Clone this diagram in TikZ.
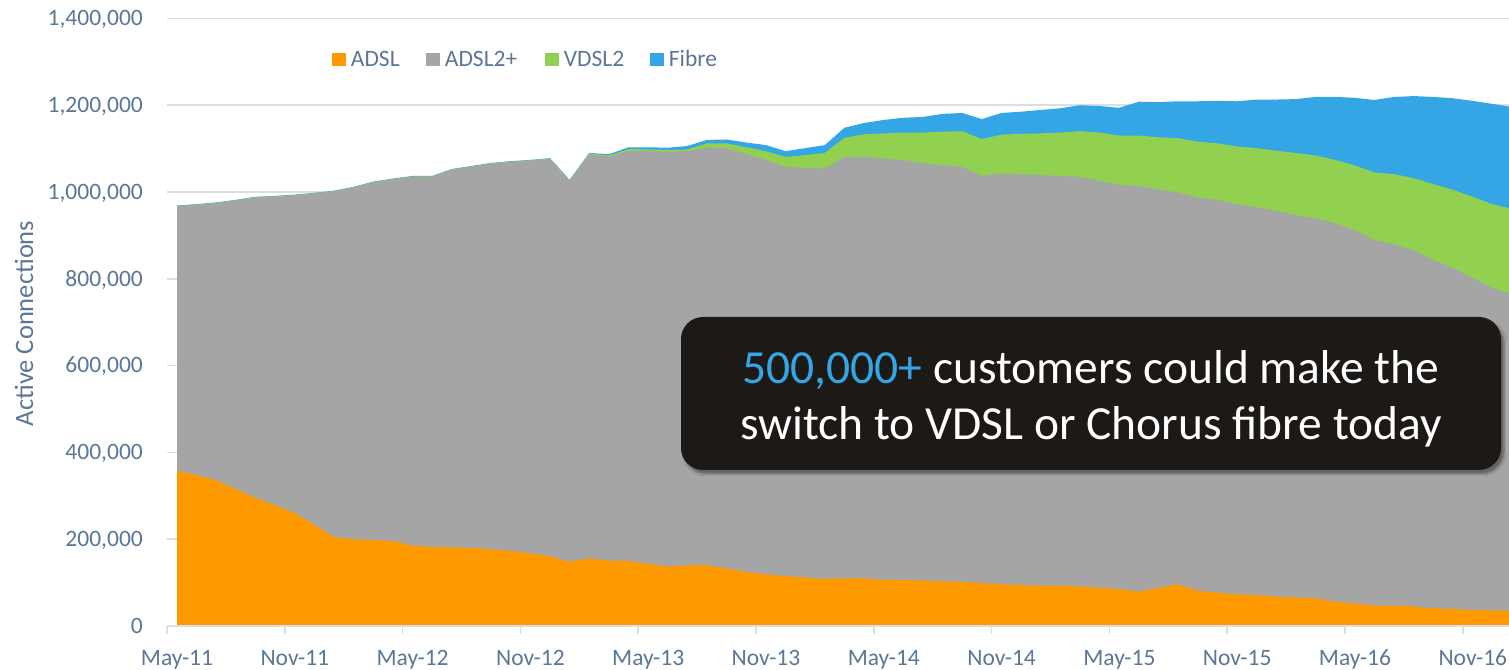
\documentclass[tikz,border=0pt]{standalone}
\usepackage{fontspec}
\setmainfont{Carlito}
\usetikzlibrary{positioning, shadows.blur}

\definecolor{axistext}{RGB}{91,119,150}
\definecolor{gridgrey}{RGB}{217,223,232}
\definecolor{adslorange}{RGB}{255,153,0}
\definecolor{adslgrey}{RGB}{165,165,165}
\definecolor{vdslgreen}{RGB}{146,208,80}
\definecolor{fibreblue}{RGB}{53,166,229}
\definecolor{calloutbg}{RGB}{28,25,23}

\begin{document}
\begin{tikzpicture}[x=1pt, y=1pt,
    ticklabel/.style={text=axistext, font=\fontsize{23.5}{28}\selectfont, inner sep=0pt},
    keytext/.style={ticklabel, text height=15pt, text depth=0pt},
    keybox/.style={minimum size=13.5pt, inner sep=0pt},
    gridline/.style={gridgrey, line width=1.5pt},
    callout/.style={fill=calloutbg, rounded corners=22pt, minimum width=820pt, minimum height=153pt,
        blur shadow={shadow xshift=3pt, shadow yshift=-4pt, shadow blur steps=8}},
    callouttext/.style={text=white, align=center, font=\fontsize{47.5}{56}\selectfont, inner sep=0pt}]
    \useasboundingbox (0,0) rectangle (1509,669);

    % Horizontal gridlines every 200,000
    \foreach \i in {1,...,7}
        \draw[gridline] (167,{43+86.8*\i}) -- (1509,{43+86.8*\i});

    % Stacked areas, month 0 = May-11, values in thousands
    \begin{scope}
        \clip (167,0) rectangle (1509,669);
        \begin{scope}[shift={(177pt,43pt)}, x=19.63pt, y=0.434pt]
            % Fibre (top of stack)
            \fill[fibreblue] plot coordinates {(0,969) (1,972) (2,976) (3,982) (4,989) (5,991) (6,994) (7,998) (8,1003) (9,1012) (10,1024) (11,1031) (12,1037) (13,1037) (14,1053) (15,1060) (16,1067) (17,1071) (18,1074) (19,1078) (20,1028) (21,1090) (22,1087) (23,1103) (24,1103) (25,1102) (26,1106) (27,1120) (28,1121) (29,1114) (30,1108) (31,1094) (32,1101) (33,1108) (34,1148) (35,1159) (36,1166) (37,1171) (38,1173) (39,1180) (40,1182) (41,1168) (42,1182) (43,1185) (44,1189) (45,1193) (46,1200) (47,1198) (48,1194) (49,1208) (50,1207) (51,1209) (52,1209) (53,1210) (54,1209) (55,1213) (56,1213) (57,1214) (58,1219) (59,1219) (60,1217) (61,1212) (62,1219) (63,1221) (64,1219) (65,1216) (66,1210) (67,1203) (68,1196)}
                -- (68,0) -- (0,0) -- cycle;
            % VDSL2
            \fill[vdslgreen] plot coordinates {(0,968) (1,971) (2,975) (3,981) (4,988) (5,990) (6,993) (7,997) (8,1002) (9,1011) (10,1023) (11,1030) (12,1036) (13,1036) (14,1052) (15,1059) (16,1066) (17,1070) (18,1073) (19,1077) (20,1027) (21,1089) (22,1084) (23,1099) (24,1098) (25,1097) (26,1098) (27,1112) (28,1112) (29,1103) (30,1094) (31,1081) (32,1085) (33,1090) (34,1125) (35,1133) (36,1135) (37,1137) (38,1137) (39,1139) (40,1140) (41,1122) (42,1132) (43,1134) (44,1135) (45,1137) (46,1140) (47,1137) (48,1130) (49,1130) (50,1126) (51,1124) (52,1116) (53,1112) (54,1105) (55,1101) (56,1095) (57,1090) (58,1084) (59,1074) (60,1061) (61,1045) (62,1041) (63,1032) (64,1018) (65,1005) (66,989) (67,972) (68,961)}
                -- (68,0) -- (0,0) -- cycle;
            % ADSL2+
            \fill[adslgrey] plot coordinates {(0,967) (1,970) (2,974) (3,980) (4,987) (5,989) (6,992) (7,996) (8,1001) (9,1010) (10,1022) (11,1029) (12,1035) (13,1035) (14,1051) (15,1058) (16,1065) (17,1069) (18,1072) (19,1076) (20,1026) (21,1087) (22,1081) (23,1095) (24,1094) (25,1093) (26,1094) (27,1103) (28,1101) (29,1087) (30,1074) (31,1058) (32,1056) (33,1054) (34,1081) (35,1081) (36,1077) (37,1074) (38,1066) (39,1062) (40,1058) (41,1037) (42,1043) (43,1041) (44,1039) (45,1037) (46,1035) (47,1025) (48,1016) (49,1014) (50,1006) (51,999) (52,987) (53,982) (54,972) (55,965) (56,956) (57,947) (58,939) (59,928) (60,912) (61,889) (62,879) (63,866) (64,843) (65,825) (66,802) (67,779) (68,765)}
                -- (68,0) -- (0,0) -- cycle;
            % ADSL
            \fill[adslorange] plot coordinates {(0,358) (1,347) (2,336) (3,315) (4,295) (5,278) (6,260) (7,233) (8,205) (9,200) (10,198) (11,196) (12,185) (13,182) (14,181) (15,180) (16,177) (17,173) (18,167) (19,161) (20,148) (21,156) (22,150) (23,150) (24,143) (25,137) (26,140) (27,140) (28,132) (29,125) (30,119) (31,115) (32,112) (33,108) (34,110) (35,110) (36,106) (37,106) (38,105) (39,103) (40,102) (41,99) (42,96) (43,94) (44,93) (45,93) (46,91) (47,88) (48,85) (49,79) (50,88) (51,96) (52,81) (53,77) (54,73) (55,71) (56,68) (57,66) (58,64) (59,56) (60,52) (61,47) (62,47) (63,45) (64,41) (65,39) (66,37) (67,36) (68,35)}
                -- (68,0) -- (0,0) -- cycle;
        \end{scope}
    \end{scope}

    % Category axis with a tick every six months
    \draw[gridline] (167,43) -- (1509,43);
    \foreach \i in {0,...,11}
        \draw[gridline] ({167+117.8*\i},43) -- ({167+117.8*\i},35);
    \foreach \lab [count=\i from 0] in {May-11,Nov-11,May-12,Nov-12,May-13,Nov-13,May-14,Nov-14,May-15,Nov-15,May-16,Nov-16}
        \node[ticklabel, anchor=base] (xlab\i) at ({177+117.8*\i},4) {\lab};

    % Value axis labels
    \foreach \lab [count=\i from 0] in {0,{200,000},{400,000},{600,000},{800,000},{1,000,000},{1,200,000},{1,400,000}}
        \node[ticklabel, anchor=base east] (ylab\i) at (143,{35.6+86.8*\i}) {\lab};
    \node[text=axistext, font=\fontsize{26.5}{30}\selectfont, rotate=90, anchor=base, inner sep=0pt] (ytitle) at (33,345.5) {Active Connections};

    % Legend
    \node[keybox, fill=adslorange] (keyadsl) at (338.75,609.6) {};
    \node[keytext, right=5pt of keyadsl] (txtadsl) {ADSL};
    \node[keybox, fill=adslgrey] (keyplus) at (432.75,609.6) {};
    \node[keytext, right=5pt of keyplus] (txtplus) {ADSL2+};
    \node[keybox, fill=vdslgreen] (keyvdsl) at (551.75,609.6) {};
    \node[keytext, right=5pt of keyvdsl] (txtvdsl) {VDSL2};
    \node[keybox, fill=fibreblue] (keyfibre) at (656.75,609.6) {};
    \node[keytext, right=5pt of keyfibre] (txtfibre) {Fibre};

    % Call-out box
    \node[callout] (note) at (1091,275.5) {};
    \node[callouttext] (notetext) at ([yshift=-5pt]note.center) {\textcolor{fibreblue}{500,000+} customers could make the\\switch to VDSL or Chorus fibre today};
\end{tikzpicture}
\end{document}
